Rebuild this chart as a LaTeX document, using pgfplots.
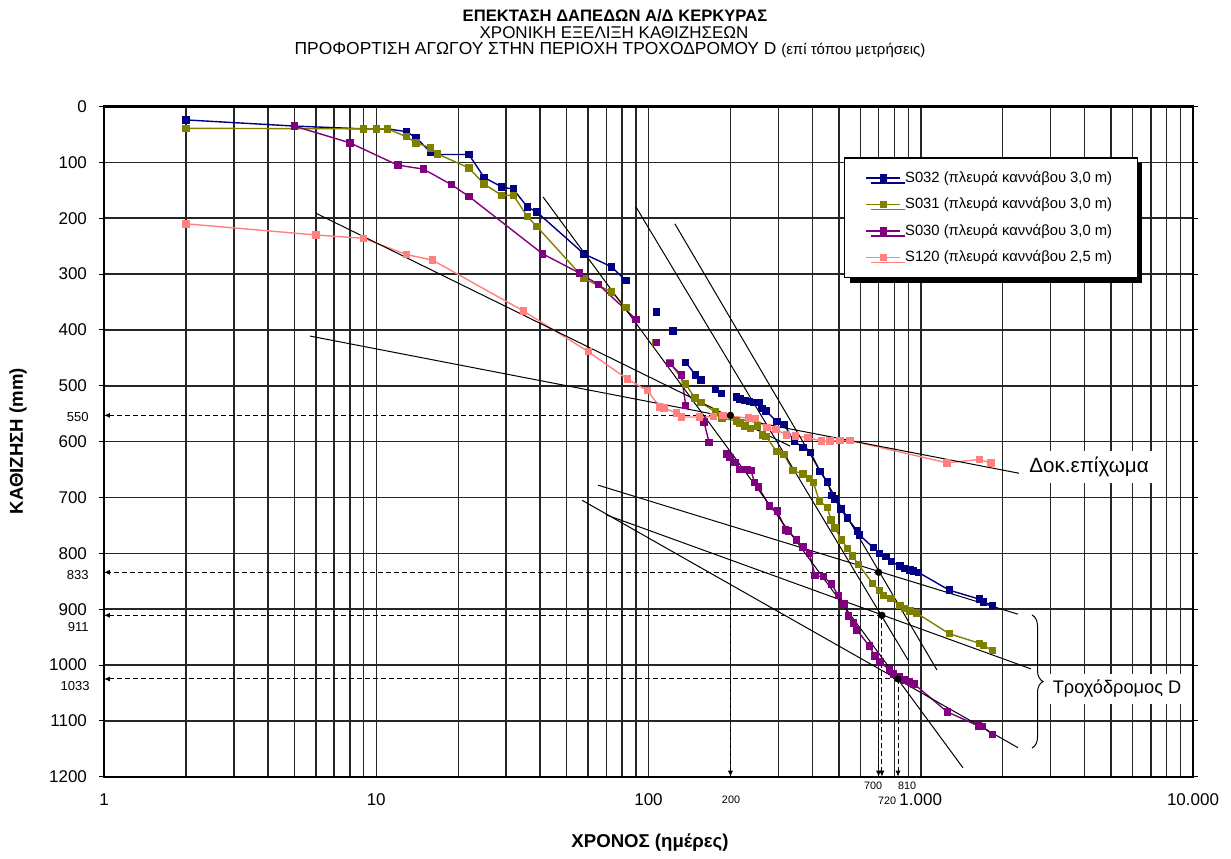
\documentclass[border=0pt]{standalone}
\usepackage{fontspec}
\setmainfont{Liberation Sans}
\usepackage{pgfplots}
\pgfplotsset{compat=1.18}
\usetikzlibrary{shadows,decorations.pathreplacing,arrows.meta}

\definecolor{sblue}{HTML}{000080}
\definecolor{solive}{HTML}{808000}
\definecolor{spurple}{HTML}{800080}
\definecolor{spink}{HTML}{FF8080}

\pgfplotsset{
  series/.style={color=#1, line width=0.7pt, mark=square*, mark size=1.5pt,
    mark options={solid, fill=#1, draw=#1}},
  trend/.style={black, line width=0.5pt, forget plot},
  guide/.style={black, line width=0.5pt, dash pattern=on 2.5pt off 1.5pt,
    -{Latex[length=3pt,width=2.6pt]}, forget plot},
}

\begin{document}
\begin{tikzpicture}
\begin{scope}[x=0.5pt,y=-0.5pt]
  \path[use as bounding box] (0,0) rectangle (1231,855);
\end{scope}

\begin{axis}[
  at={(324.25pt,-220.8pt)}, anchor=center,
  scale only axis, width=544.5pt, height=335.1pt,
  xmode=log, xmin=1, xmax=10000,
  ymin=0, ymax=1200, y dir=reverse,
  xtick={1,10,100,1000,10000},
  xticklabels={1,10,100,1.000,10.000},
  ytick distance=100,
  grid=both,
  major grid style={black!85, line width=0.75pt},
  minor grid style={black!85, line width=0.7pt},
  axis line style={black, line width=1.2pt},
  xtick style={draw=none},
  ytick style={black, line width=0.5pt},
  minor tick length=0pt,
  tick align=outside, major tick length=2.5pt,
  ticklabel style={font=\fontsize{8.5}{10}\selectfont},
  xticklabel style={yshift=-2.3pt},
  yticklabel style={xshift=-2.5pt},
  /pgf/number format/assume math mode=true,
  /pgf/number format/1000 sep={},
  unbounded coords=jump,
  clip=false,
  legend cell align=left,
  legend style={at={(0.6795,0.9242)}, anchor=north west,
    draw=black, line width=0.6pt, fill=white,
    font=\fontsize{7.4}{8.5}\selectfont,
    inner xsep=10.5pt, inner ysep=4.5pt, row sep=2.2pt,
    drop shadow={shadow xshift=2.5pt, shadow yshift=-2.5pt, fill=black, opacity=1}},
]

% S032
\addplot[series=sblue] coordinates {
  (2,24) (5,35) (9,40) (10,40) (11,40) (12.9,45) (14,56) (15.85,82) (16.8,86)
  (21.9,86) (24.9,127) (28.9,144) (31.9,148) (35.9,180) (38.9,189) (58,264)
  (73.2,287) (82.7,312) (90,nan)
  (107,368) (112,nan) (123,402) (130,nan)
  (137,458) (149,481) (156,490) (165,nan)
  (176,506) (185,514) (195,nan)
  (210,520) (217,524) (226,526) (235,528) (244,530) (255,530) (261,541)
  (270,545) (296,564) (315,569) (343,600) (370,610) (394,620) (427,654)
  (455,672) (472,696) (484,703) (509,721) (537,737) (585,760) (595,767)
  (670,790) (704,800) (746,806) (782,815) (839,823) (875,827) (913,830)
  (939,832) (979,834) (1273,866) (1641,882) (1697,887) (1831,893)
};
\addlegendentry{S032 (πλευρά καννάβου 3,0 m)}

% S031
\addplot[series=solive] coordinates {
  (2,39) (9,40) (10,40) (11,40) (12.9,54) (14,65) (15.85,74) (16.8,85)
  (21.9,110) (24.9,139) (28.9,159) (31.9,159) (35.9,197) (38.9,215) (58,308)
  (73.2,332) (82.7,360) (95,nan)
  (106,423) (112,nan)
  (120,459) (137,497) (148,522) (156,530) (176,547) (186,558) (210,563)
  (217,567) (226,572) (237,577) (251,572) (262,588) (270,591) (296,618)
  (315,623) (339,652) (370,658) (390,666) (403,673) (424,706) (454,718)
  (468,740) (484,755) (512,776) (537,791) (562,805) (590,820) (666,854)
  (704,867) (729,875) (777,881) (839,893) (875,899) (913,903) (966,907)
  (1273,944) (1641,961) (1697,965) (1831,974)
};
\addlegendentry{S031 (πλευρά καννάβου 3,0 m)}

% S030
\addplot[series=spurple] coordinates {
  (5,35) (8,65) (12,105) (14.9,112) (18.9,140) (21.9,161) (40.9,264)
  (55.7,298) (65.6,319) (90,381) (98,nan)
  (107,422) (113,nan)
  (120,460) (132,481) (137,535) (148,nan)
  (160,565) (167,602) (180,nan)
  (193,622) (199,628) (208,637) (216,650) (223,650) (231,650) (238,652)
  (245,673) (253,681) (278,715) (297,724) (319,758) (326,760) (350,776)
  (369,789) (390,800) (409,840) (439,842) (471,855) (498,876) (523,891)
  (542,912) (565,925) (582,937) (647,966) (679,984) (709,994) (767,1009)
  (793,1016) (834,1021) (870,1027) (908,1030) (945,1034) (1252,1084)
  (1627,1109) (1683,1110) (1831,1124)
};
\addlegendentry{S030 (πλευρά καννάβου 3,0 m)}

% S120
\addplot[series=spink] coordinates {
  (2,210) (6,230) (9,236) (12.9,265) (16.1,275) (34.7,366) (60.1,439)
  (83.6,488) (99.3,509) (110,538) (114,540) (127,549) (132,556) (154,556)
  (173,555) (188,553) (233,558) (246,559) (272,575) (294,578) (321,588)
  (347,590) (385,593) (433,599) (464,599) (505,598) (550,598)
  (1249,638) (1640,632) (1811,638)
};
\addlegendentry{S120 (πλευρά καννάβου 2,5 m)}

% trend lines
\addplot[trend] coordinates {(6.0,191) (331,608)};
\addplot[trend] coordinates {(5.71,411) (2374,658)};
\addplot[trend] coordinates {(41.0,162) (1429,1184)};
\addplot[trend] coordinates {(90,180) (898,991)};
\addplot[trend] coordinates {(125,210) (1147,1009)};
\addplot[trend] coordinates {(65.3,678) (2276,909)};
\addplot[trend] coordinates {(69.8,731) (2541,1007)};
\addplot[trend] coordinates {(57.0,705) (2276,1148)};

% read-off guides
\addplot[guide] coordinates {(200,553) (1,553)};
\addplot[guide] coordinates {(200,553) (200,1200)};
\addplot[guide] coordinates {(700,834) (1,834)};
\addplot[guide] coordinates {(700,834) (700,1200)};
\addplot[guide] coordinates {(720,911) (1,911)};
\addplot[guide] coordinates {(720,911) (720,1200)};
\addplot[guide] coordinates {(825,1025) (1,1025)};
\addplot[guide] coordinates {(825,1025) (825,1200)};

\addplot[only marks, mark=*, mark size=1.6pt, black, forget plot]
  coordinates {(200,553) (700,834) (720,911) (825,1025)};
\end{axis}

\begin{scope}[x=0.5pt,y=-0.5pt]
  \node[font=\bfseries\fontsize{8.3}{10}\selectfont] at (615,16)
    {ΕΠΕΚΤΑΣΗ ΔΑΠΕΔΩΝ Α/Δ ΚΕΡΚΥΡΑΣ};
  \node[font=\fontsize{8.5}{10}\selectfont] at (614,33)
    {ΧΡΟΝΙΚΗ ΕΞΕΛΙΞΗ ΚΑΘΙΖΗΣΕΩΝ};
  \node[font=\fontsize{8.7}{10}\selectfont] at (610,50)
    {ΠΡΟΦΟΡΤΙΣΗ ΑΓΩΓΟΥ ΣΤΗΝ ΠΕΡΙΟΧΗ ΤΡΟΧΟΔΡΟΜΟΥ D {\fontsize{7.5}{9}\selectfont(επί τόπου μετρήσεις)}};

  \node[font=\bfseries\fontsize{9.3}{11}\selectfont] at (650,843) {ΧΡΟΝΟΣ (ημέρες)};
  \node[font=\bfseries\fontsize{9.3}{11}\selectfont, rotate=90] at (18,441) {ΚΑΘΙΖΗΣΗ (mm)};

  \begin{scope}[every node/.style={font=\fontsize{6.5}{8}\selectfont, anchor=east, inner sep=0pt}]
    \node at (89,417) {550};
    \node at (89,575) {833};
    \node at (89,627) {911};
    \node at (90,686) {1033};
  \end{scope}
  \begin{scope}[every node/.style={font=\fontsize{5.4}{7}\selectfont, inner sep=0pt}]
    \node at (731,800) {200};
    \node at (873,786) {700};
    \node at (907,786) {810};
    \node at (887,801) {720};
  \end{scope}

  \node[fill=white, inner xsep=5pt, inner ysep=3pt, font=\fontsize{10.3}{12}\selectfont]
    at (1089,467) {Δοκ.επίχωμα};
  \node[fill=white, inner xsep=2pt, inner ysep=3pt, font=\fontsize{9.1}{10}\selectfont]
    at (1117,689) {Τροχόδρομος D};
  \draw[line width=0.5pt, decorate, decoration={brace, amplitude=5.5pt}]
    (1032,615) -- (1032,748);
\end{scope}
\end{tikzpicture}
\end{document}
